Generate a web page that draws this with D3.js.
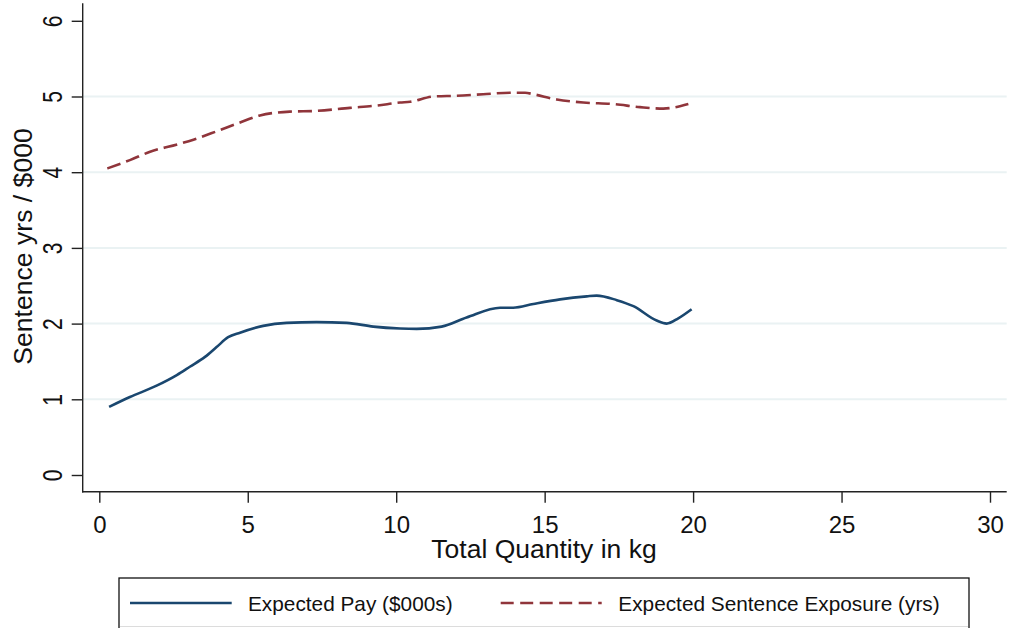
<!DOCTYPE html>
<html>
<head>
<meta charset="utf-8">
<script src="https://cdn.jsdelivr.net/npm/d3@7"></script>
<style>
html,body{margin:0;padding:0;background:#fff;}
svg{display:block;font-family:"Liberation Sans",Arial,sans-serif;}
</style>
</head>
<body>
<svg id="chart" width="1011" height="628"></svg>
<script>
// ---- data ----
const payX = [0.33,1.03,1.93,2.61,3.05,3.56,3.95,4.34,4.74,5.52,6.31,7.32,8.33,9.23,10.13,10.69,11.53,12.37,13.50,13.94,14.62,15.52,16.42,16.75,17.43,17.99,18.77,19.11,19.50,19.95];
const payY = [0.90,1.03,1.18,1.32,1.43,1.56,1.69,1.82,1.88,1.97,2.01,2.02,2.01,1.96,1.935,1.93,1.96,2.08,2.21,2.21,2.26,2.32,2.36,2.37,2.31,2.23,2.04,2.00,2.07,2.19];
const sentX = [0.27,1.03,1.71,2.66,3.17,3.95,4.63,5.41,6.42,7.32,8.44,9.34,10.13,10.47,11.25,12.04,12.93,13.83,14.34,14.62,15.41,16.30,17.31,18.21,19.00,19.28,19.84];
const sentY = [4.05,4.16,4.27,4.37,4.43,4.54,4.64,4.75,4.80,4.81,4.85,4.88,4.92,4.93,5.00,5.01,5.03,5.05,5.05,5.03,4.96,4.92,4.90,4.86,4.84,4.85,4.90];
const xTicks = [0,5,10,15,20,25,30];
const yTicks = [0,1,2,3,4,5,6];
const gridTicks = [1,2,3,4,5];
const seriesNames = ["Expected Pay ($000s)", "Expected Sentence Exposure (yrs)"];
const xTitle = "Total Quantity in kg";
const yTitle = "Sentence yrs / $000";

const svg = d3.select("#chart");
const x = d3.scaleLinear().domain([0,30]).range([99.3,990]);
const y = d3.scaleLinear().domain([0,6]).range([475,20.8]);
const axisLeft = 82.7, axisBottom = 491.7, axisTop = 3.3, axisRight = 1006.7;
const blue = "#1a476f", red = "#90353b";

// gridlines
svg.append("g").selectAll("line").data(gridTicks).join("line")
  .attr("x1", axisLeft).attr("x2", axisRight)
  .attr("y1", d => y(d)).attr("y2", d => y(d))
  .attr("stroke", "#eaf2f3").attr("stroke-width", 2);

// y axis
const gy = svg.append("g").attr("transform", `translate(${axisLeft},0)`)
  .call(d3.axisLeft(y).tickValues(yTicks).tickSize(11).tickSizeOuter(0).tickFormat(d3.format("d")));
gy.select(".domain").remove();
gy.selectAll(".tick line").attr("stroke", "#222").attr("stroke-width", 1.4);
gy.selectAll(".tick text").remove();
gy.selectAll(".tick").append("text")
  .attr("transform", "translate(-21,0) rotate(-90) scale(0.78,1)")
  .attr("text-anchor", "middle").attr("dy", 0)
  .attr("fill", "#111").attr("font-size", 27)
  .text(d => d);

// x axis
const gx = svg.append("g").attr("transform", `translate(0,${axisBottom})`)
  .call(d3.axisBottom(x).tickValues(xTicks).tickSize(11).tickSizeOuter(0).tickFormat(d3.format("d")));
gx.select(".domain").remove();
gx.selectAll(".tick line").attr("stroke", "#222").attr("stroke-width", 1.4);
gx.selectAll(".tick text").attr("y", 41).attr("dy", 0).attr("fill", "#111")
  .attr("font-size", 24).attr("font-family", "'Liberation Sans',Arial,sans-serif");

// axis lines
svg.append("line").attr("x1", axisLeft).attr("x2", axisLeft).attr("y1", axisTop).attr("y2", axisBottom + 0.7)
  .attr("stroke", "#222").attr("stroke-width", 1.4);
svg.append("line").attr("x1", axisLeft - 0.7).attr("x2", axisRight).attr("y1", axisBottom).attr("y2", axisBottom)
  .attr("stroke", "#222").attr("stroke-width", 1.4);

// titles
svg.append("text").attr("x", 544).attr("y", 558).attr("text-anchor", "middle")
  .attr("font-size", 26.5).attr("fill", "#111").text(xTitle);
svg.append("text").attr("transform", "translate(31.5,246.5) rotate(-90)").attr("text-anchor", "middle")
  .attr("font-size", 26.6).attr("fill", "#111").text(yTitle);

// lines
const line = d3.line().x(d => x(d[0])).y(d => y(d[1])).curve(d3.curveMonotoneX);
svg.append("path").datum(d3.zip(sentX, sentY)).attr("d", line)
  .attr("fill", "none").attr("stroke", red).attr("stroke-width", 2.6)
  .attr("stroke-dasharray", "14,6");
svg.append("path").datum(d3.zip(payX, payY)).attr("d", line)
  .attr("fill", "none").attr("stroke", blue).attr("stroke-width", 2.6);

// legend
const lg = svg.append("g");
lg.append("rect").attr("x", 119).attr("y", 578).attr("width", 850).attr("height", 70)
  .attr("fill", "#fff").attr("stroke", "#111").attr("stroke-width", 1.3);
lg.append("line").attr("x1", 120).attr("x2", 968).attr("y1", 626.5).attr("y2", 626.5)
  .attr("stroke", "#dcdcdc").attr("stroke-width", 1);
lg.append("line").attr("x1", 130).attr("x2", 231.7).attr("y1", 603).attr("y2", 603)
  .attr("stroke", blue).attr("stroke-width", 2.6);
lg.append("text").attr("x", 248).attr("y", 611).attr("font-size", 20.8).attr("fill", "#111").text(seriesNames[0]);
lg.append("line").attr("x1", 500.7).attr("x2", 601.7).attr("y1", 603).attr("y2", 603)
  .attr("stroke", red).attr("stroke-width", 2.6).attr("stroke-dasharray", "13,6.5");
lg.append("text").attr("x", 618.3).attr("y", 611).attr("font-size", 20.8).attr("fill", "#111").text(seriesNames[1]);
</script>
</body>
</html>
